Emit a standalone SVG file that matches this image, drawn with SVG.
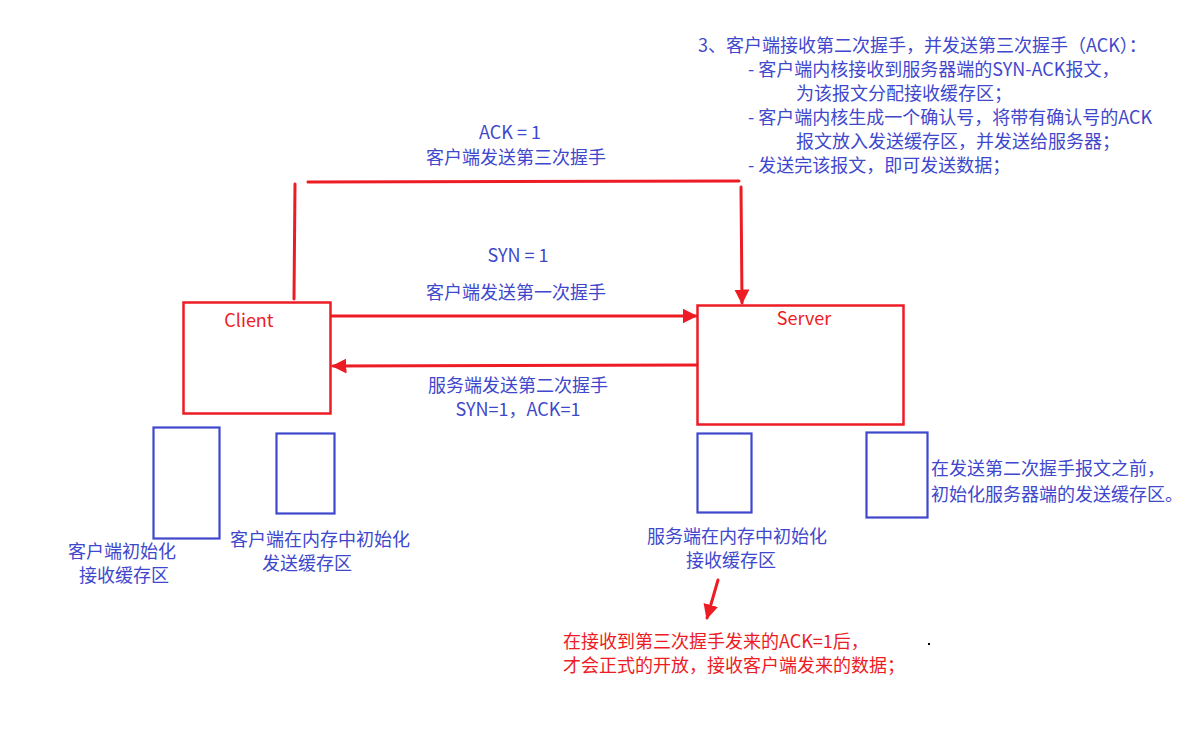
<svg xmlns="http://www.w3.org/2000/svg" width="1195" height="742" viewBox="0 0 1195 742">
<defs>
<style>
text{font-family:"Microsoft YaHei","Noto Sans CJK SC","Noto Sans",sans-serif;font-size:18px}
.b{fill:#3F48CC}
.r{fill:#ED1C24}
.c{text-anchor:middle}
.rb{fill:none;stroke:#ED1C24;stroke-width:2.5}
.bb{fill:none;stroke:#3F48CC;stroke-width:2.2}
.ln{fill:none;stroke:#ED1C24;stroke-width:3;stroke-linecap:round}
</style>
<marker id="ah" viewBox="0 0 10 10" refX="9" refY="5" markerWidth="5" markerHeight="5" markerUnits="strokeWidth" orient="auto">
<path d="M0,0 L10,5 L0,10 z" fill="#ED1C24"/>
</marker>
</defs>
<rect width="1195" height="742" fill="#fff"/>

<g id="note-top">
<text class="b" x="698" y="52">3、客户端接收第二次握手，并发送第三次握手（ACK）：</text>
<text class="b" x="748" y="76">- 客户端内核接收到服务器端的SYN-ACK报文，</text>
<text class="b" x="796" y="100">为该报文分配接收缓存区；</text>
<text class="b" x="748" y="124">- 客户端内核生成一个确认号，将带有确认号的ACK</text>
<text class="b" x="796" y="148">报文放入发送缓存区，并发送给服务器；</text>
<text class="b" x="748" y="172">- 发送完该报文，即可发送数据；</text>
</g>

<g id="client">
<rect class="rb" x="183.5" y="302.5" width="147" height="111"/>
<text class="r c" x="249" y="327">Client</text>
</g>
<g id="server">
<rect class="rb" x="697.5" y="305.5" width="206" height="119"/>
<text class="r c" x="804" y="325">Server</text>
</g>

<g id="client-recv-buf">
<rect class="bb" x="153.5" y="427.5" width="66" height="111"/>
<text class="b c" x="122" y="558">客户端初始化</text>
<text class="b c" x="124" y="582">接收缓存区</text>
</g>
<g id="client-send-buf">
<rect class="bb" x="276.5" y="433.5" width="58" height="80"/>
<text class="b c" x="320" y="546">客户端在内存中初始化</text>
<text class="b c" x="307" y="570">发送缓存区</text>
</g>
<g id="server-recv-buf">
<rect class="bb" x="697.5" y="433.5" width="54" height="79"/>
<text class="b c" x="737" y="543">服务端在内存中初始化</text>
<text class="b c" x="731" y="567">接收缓存区</text>
</g>
<g id="server-send-buf">
<rect class="bb" x="866.5" y="432.5" width="61" height="85"/>
<text class="b" x="931" y="475">在发送第二次握手报文之前，</text>
<text class="b" x="931" y="501">初始化服务器端的发送缓存区。</text>
</g>
<g id="note-bottom">
<text class="r" x="563" y="648">在接收到第三次握手发来的ACK=1后，</text>
<text class="r" x="563" y="672">才会正式的开放，接收客户端发来的数据；</text>
<rect x="928" y="643" width="2" height="2" fill="#000"/>
</g>

<g id="connectors">
<line class="ln" x1="332" y1="316" x2="696" y2="316" marker-end="url(#ah)"/>
<line class="ln" x1="697" y1="365" x2="333" y2="366" marker-end="url(#ah)"/>
<line class="ln" x1="294" y1="299" x2="295" y2="184"/>
<line class="ln" x1="308" y1="182" x2="739" y2="181"/>
<line class="ln" x1="741" y1="187" x2="742" y2="303" marker-end="url(#ah)"/>
<line class="ln" x1="718" y1="580" x2="707" y2="618" marker-end="url(#ah)"/>
<text class="b c" x="510" y="139">ACK = 1</text>
<text class="b c" x="516" y="164">客户端发送第三次握手</text>
<text class="b c" x="518" y="262">SYN = 1</text>
<text class="b c" x="516" y="299">客户端发送第一次握手</text>
<text class="b c" x="518" y="392">服务端发送第二次握手</text>
<text class="b c" x="518" y="416">SYN=1，ACK=1</text>
</g>
</svg>
